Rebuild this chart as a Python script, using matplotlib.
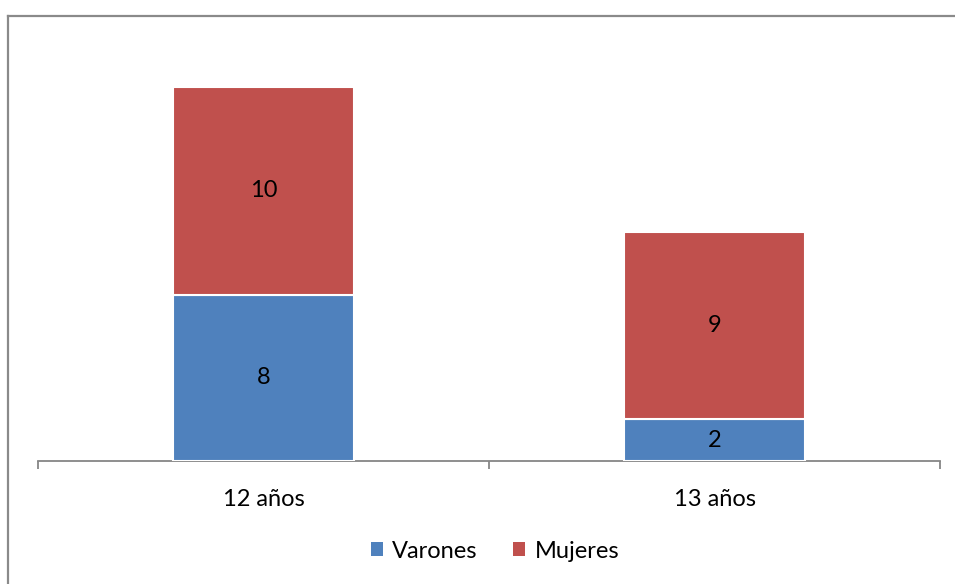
import matplotlib.pyplot as plt
from matplotlib.lines import Line2D
from matplotlib.patches import Patch

categories = ["12 años", "13 años"]
varones = [8, 2]
mujeres = [10, 9]

BLUE = "#4F81BD"
RED = "#C0504D"
FONT = ["Lato", "DejaVu Sans"]
FS = 17


def main() -> None:
    plt.rcParams["font.family"] = FONT
    fig = plt.figure(figsize=(9.55, 5.84), dpi=100)
    ax = fig.add_axes([38 / 955, 1 - 461 / 584, 902 / 955, 416 / 584])

    x = list(range(len(categories)))
    width = 0.4
    bars_v = ax.bar(x, varones, width, color=BLUE, edgecolor="white", linewidth=1.5, label="Varones", zorder=3)
    bars_m = ax.bar(x, mujeres, width, bottom=varones, color=RED, edgecolor="white", linewidth=1.5,
                    label="Mujeres", zorder=3)

    for bars, vals, bottoms in ((bars_v, varones, [0] * len(varones)), (bars_m, mujeres, varones)):
        for bar, v, b in zip(bars, vals, bottoms):
            ax.text(bar.get_x() + bar.get_width() / 2, b + v / 2, str(v),
                    ha="center", va="center", fontsize=FS, color="black", zorder=4)

    ax.set_xlim(-0.5, len(categories) - 0.5)
    ax.set_ylim(0, 20)
    for side in ("top", "right", "left"):
        ax.spines[side].set_visible(False)
    ax.spines["bottom"].set_color("#868686")
    ax.spines["bottom"].set_linewidth(1.3)
    ax.set_yticks([])

    ax.set_xticks([-0.5 + i for i in range(len(categories) + 1)])
    ax.set_xticklabels([])
    ax.tick_params(axis="x", which="major", length=6, width=1.3, color="#868686")
    ax.set_xticks(x, minor=True)
    ax.set_xticklabels(categories, minor=True, fontsize=FS)
    ax.tick_params(axis="x", which="minor", length=0, pad=20)

    handles = [Patch(facecolor=BLUE, label="Varones"), Patch(facecolor=RED, label="Mujeres")]
    fig.legend(handles=handles, loc="center", bbox_to_anchor=(495 / 955, 1 - 551 / 584),
               ncol=2, frameon=False, fontsize=FS, handlelength=0.5, handleheight=0.5,
               handletextpad=0.4, columnspacing=1.5)

    # chart frame (top and left edges)
    fig.add_artist(Line2D([8 / 955, 1], [1 - 16 / 584, 1 - 16 / 584], color="#8a8a8a", linewidth=1.6))
    fig.add_artist(Line2D([8 / 955, 8 / 955], [0, 1 - 16 / 584], color="#8a8a8a", linewidth=1.6))

    fig.savefig("out.png", dpi=100)


if __name__ == "__main__":
    main()
